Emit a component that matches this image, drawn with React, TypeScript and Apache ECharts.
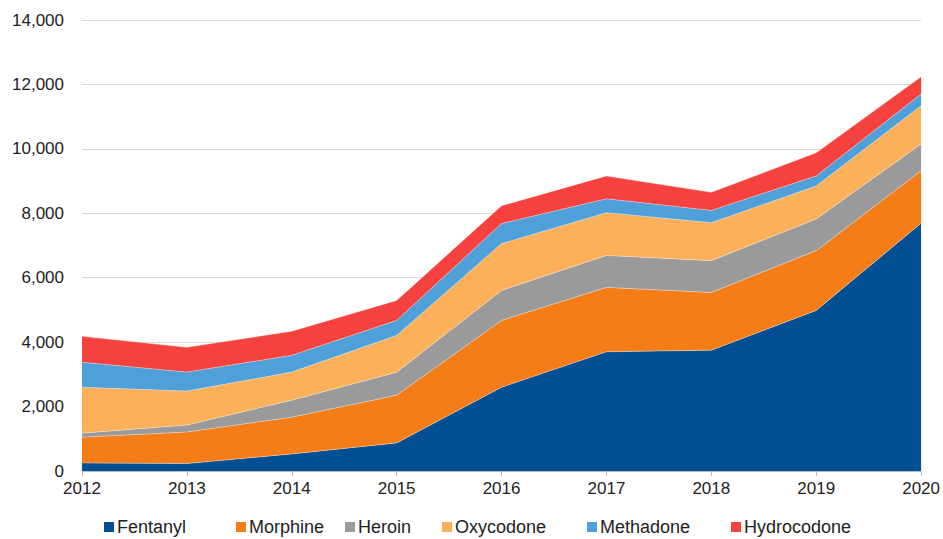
import React, { useEffect, useRef } from "react";
import * as echarts from "echarts";

const years = ["2012", "2013", "2014", "2015", "2016", "2017", "2018", "2019", "2020"];
const fentanyl = [250, 230, 530, 870, 2600, 3700, 3750, 4985, 7690];
const morphine = [800, 980, 1140, 1485, 2075, 2000, 1790, 1855, 1630];
const heroin = [125, 215, 530, 710, 930, 990, 990, 980, 830];
const oxycodone = [1425, 1055, 870, 1145, 1455, 1330, 1180, 1030, 1185];
const methadone = [775, 590, 520, 465, 620, 430, 380, 310, 365];
const hydrocodone = [805, 770, 750, 620, 555, 710, 560, 720, 535];

const seriesDefs = [
  { name: "Fentanyl", data: fentanyl, color: "#034f93" },
  { name: "Morphine", data: morphine, color: "#f57d17" },
  { name: "Heroin", data: heroin, color: "#9a9a9a" },
  { name: "Oxycodone", data: oxycodone, color: "#fdb05a" },
  { name: "Methadone", data: methadone, color: "#4f9fd9" },
  { name: "Hydrocodone", data: hydrocodone, color: "#f5423e" },
];

const legendLefts = [104, 236, 345, 442, 587, 731];

export default function App() {
  const ref = useRef<HTMLDivElement>(null);
  useEffect(() => {
    if (!ref.current) return;
    const chart = echarts.init(ref.current, null, { renderer: "svg" });
    chart.setOption({
      animation: false,
      textStyle: { fontFamily: "Liberation Sans, Arial, sans-serif" },
      grid: { left: 82, right: 21, top: 20, bottom: 68, containLabel: false },
      legend: seriesDefs.map((s, i) => ({
        top: 518,
        left: legendLefts[i],
        padding: 0,
        icon: "rect",
        itemWidth: 10,
        itemHeight: 10,
        textStyle: { fontSize: 18, color: "#222", padding: [0, 0, 0, -2] },
        data: [s.name],
      })),
      xAxis: {
        type: "category",
        data: years,
        boundaryGap: false,
        axisLine: { lineStyle: { color: "#bbbbbb" } },
        axisTick: { show: true, length: 5, lineStyle: { color: "#bbbbbb" }, alignWithLabel: true },
        axisLabel: { fontSize: 17, color: "#222", margin: 9 },
      },
      yAxis: {
        type: "value",
        min: 0,
        max: 14000,
        interval: 2000,
        axisLine: { show: false },
        axisTick: { show: false },
        splitLine: { lineStyle: { color: "#d9d9d9" } },
        axisLabel: {
          fontSize: 17,
          color: "#222",
          margin: 18,
          formatter: (v: number) => v.toLocaleString("en-US"),
        },
      },
      series: seriesDefs.map((s) => ({
        name: s.name,
        type: "line",
        stack: "total",
        data: s.data,
        symbol: "none",
        color: s.color,
        lineStyle: { width: 0.8, color: "rgba(255,255,255,0.45)" },
        areaStyle: { color: s.color, opacity: 1 },
      })),
    });
    return () => chart.dispose();
  }, []);
  return <div ref={ref} style={{ width: 943, height: 539, position: "absolute", left: 0, top: 0 }} />;
}
